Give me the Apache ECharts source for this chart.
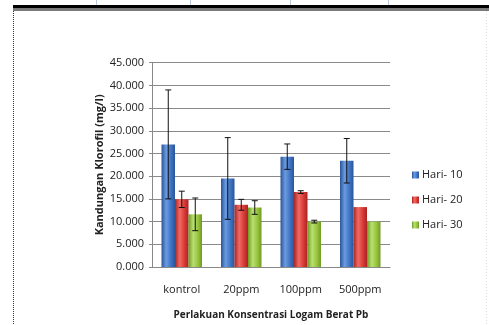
<!DOCTYPE html>
<html>
<head>
<meta charset="utf-8">
<script src="https://cdn.jsdelivr.net/npm/echarts@6/dist/echarts.min.js"></script>
<style>
html,body{margin:0;padding:0;background:#fff;}
#c{width:489px;height:325px;}
</style>
</head>
<body>
<div id="c"></div>
<script>
var categories = ['kontrol', '20ppm', '100ppm', '500ppm'];
var seriesNames = ['Hari- 10', 'Hari- 20', 'Hari- 30'];
var hari10 = [27.0, 19.5, 24.3, 23.4];
var hari20 = [14.9, 13.7, 16.5, 13.2];
var hari30 = [11.6, 13.1, 10.0, 10.0];
var err10 = [12.0, 9.0, 2.8, 4.9];
var err20 = [1.8, 1.2, 0.3, 0];
var err30 = [3.6, 1.5, 0.3, 0];
var yTicks = [0, 5, 10, 15, 20, 25, 30, 35, 40, 45];

var values = [hari10, hari20, hari30];
var errors = [err10, err20, err30];
var colorsTop = ['#6b9be0', '#f06a66', '#b8e070'];
var colorsMain = ['#3f74c4', '#d93a36', '#98c43e'];
var colorsDark = ['#2a559a', '#a82420', '#6f9a26'];
var BW = 13.5;
var FONT = '"Open Sans", "DejaVu Sans", sans-serif';

function grad(i) {
  return new echarts.graphic.LinearGradient(0, 0, 1, 0, [
    {offset: 0, color: colorsDark[i]},
    {offset: 0.35, color: colorsTop[i]},
    {offset: 0.7, color: colorsMain[i]},
    {offset: 1, color: colorsDark[i]}
  ]);
}

var series = [];
seriesNames.forEach(function (name, i) {
  series.push({
    name: name,
    type: 'bar',
    data: values[i],
    barWidth: BW,
    barGap: '0%',
    itemStyle: {color: grad(i)},
    z: 2
  });
});
seriesNames.forEach(function (name, i) {
  series.push({
    type: 'custom',
    name: name + ' err',
    data: values[i].map(function (v, k) { return [k, v, errors[i][k]]; }),
    z: 5,
    silent: true,
    renderItem: function (params, api) {
      var k = api.value(0), v = api.value(1), e = api.value(2);
      if (!e) return null;
      var base = api.coord([k, v]);
      var x = base[0] + (i - 1) * BW;
      var hi = api.coord([k, v + e])[1];
      var lo = api.coord([k, v - e])[1];
      var cap = 3;
      var st = {stroke: '#111', lineWidth: 1};
      return {
        type: 'group',
        children: [
          {type: 'line', shape: {x1: x, y1: hi, x2: x, y2: lo}, style: st},
          {type: 'line', shape: {x1: x - cap, y1: hi, x2: x + cap, y2: hi}, style: st},
          {type: 'line', shape: {x1: x - cap, y1: lo, x2: x + cap, y2: lo}, style: st}
        ]
      };
    },
    encode: {x: 0, y: 1}
  });
});

var chart = echarts.init(document.getElementById('c'), null, {renderer: 'canvas'});
chart.setOption({
  animation: false,
  backgroundColor: '#ffffff',
  textStyle: {fontFamily: FONT},
  grid: {left: 152, right: 99, top: 62.7, bottom: 56.3, containLabel: false},
  legend: {
    orient: 'vertical',
    left: 407,
    top: 164,
    itemWidth: 7,
    itemHeight: 7,
    itemGap: 13,
    icon: 'rect',
    data: seriesNames,
    textStyle: {fontFamily: FONT, fontSize: 11, color: '#222', lineHeight: 12, padding: [0, 0, 0, -2]}
  },
  xAxis: {
    type: 'category',
    data: categories,
    axisLine: {lineStyle: {color: '#888', width: 1}},
    axisTick: {show: false},
    axisLabel: {fontFamily: FONT, fontSize: 11, color: '#222', margin: 17},
    name: 'Perlakuan Konsentrasi Logam Berat Pb',
    nameLocation: 'middle',
    nameGap: 48,
    nameTextStyle: {fontFamily: FONT, fontSize: 10, fontWeight: 'bold', color: '#222', verticalAlign: 'middle'}
  },
  yAxis: {
    type: 'value',
    min: yTicks[0],
    max: yTicks[yTicks.length - 1],
    interval: 5,
    axisLine: {show: true, lineStyle: {color: '#888', width: 1}},
    axisTick: {show: true, length: 3, lineStyle: {color: '#888'}},
    splitLine: {lineStyle: {color: '#8a8a8a', width: 1}},
    axisLabel: {fontFamily: FONT, fontSize: 11, color: '#222', margin: 8,
      formatter: function (v) { return v.toFixed(3); }},
    name: 'Kandungan Klorofil (mg/l)',
    nameLocation: 'middle',
    nameGap: 47,
    nameRotate: 90,
    nameTextStyle: {fontFamily: FONT, fontSize: 11, fontWeight: 'bold', color: '#222', verticalAlign: 'middle'}
  },
  series: series,
  graphic: [
    {type: 'rect', shape: {x: 13, y: 5, width: 476, height: 3}, style: {fill: '#000'}, silent: true},
    {type: 'rect', shape: {x: 13, y: 8, width: 476, height: 3}, style: {fill: '#7a7a7a'}, silent: true},
    {type: 'line', shape: {x1: 13.5, y1: 11, x2: 13.5, y2: 325}, style: {stroke: '#333', lineWidth: 1, lineDash: [1, 1]}, silent: true},
    {type: 'line', shape: {x1: 486.5, y1: 11, x2: 486.5, y2: 325}, style: {stroke: '#ddd', lineWidth: 1, lineDash: [1, 2]}, silent: true},
    {type: 'line', shape: {x1: 96.5, y1: 0, x2: 96.5, y2: 5}, style: {stroke: '#bcc8dc', lineWidth: 1}, silent: true},
    {type: 'line', shape: {x1: 190.5, y1: 0, x2: 190.5, y2: 5}, style: {stroke: '#bcc8dc', lineWidth: 1}, silent: true},
    {type: 'line', shape: {x1: 290.5, y1: 0, x2: 290.5, y2: 5}, style: {stroke: '#bcc8dc', lineWidth: 1}, silent: true},
    {type: 'line', shape: {x1: 388.5, y1: 0, x2: 388.5, y2: 5}, style: {stroke: '#bcc8dc', lineWidth: 1}, silent: true}
  ]
});
</script>
</body>
</html>
